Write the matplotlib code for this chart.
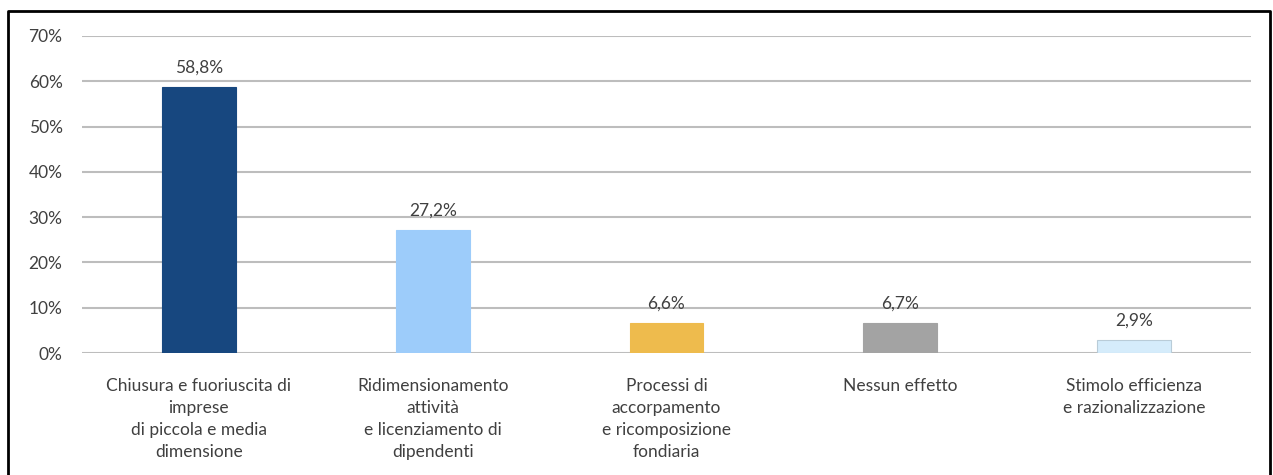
import matplotlib
matplotlib.use("Agg")
import matplotlib.pyplot as plt
from matplotlib.lines import Line2D

categories = [
    "Chiusura e fuoriuscita di\nimprese\ndi piccola e media\ndimensione",
    "Ridimensionamento\nattività\ne licenziamento di\ndipendenti",
    "Processi di\naccorpamento\ne ricomposizione\nfondiaria",
    "Nessun effetto",
    "Stimolo efficienza\ne razionalizzazione",
]
values = [58.8, 27.2, 6.6, 6.7, 2.9]
colors = ["#17477F", "#9DCCFA", "#EEBB4D", "#A3A3A3", "#D5ECFB"]
edges = ["#17477F", "#9DCCFA", "#EEBB4D", "#A3A3A3", "#B9CCD8"]
yticks = [0, 10, 20, 30, 40, 50, 60, 70]

plt.rcParams["font.family"] = ["Lato", "DejaVu Sans"]

fig = plt.figure(figsize=(12.73, 4.75), dpi=100)
ax = fig.add_axes([82 / 1273, 1 - 353 / 475, (1251 - 82) / 1273, (353 - 36) / 475])

x = range(len(values))
bars = ax.bar(x, values, width=0.316, color=colors, edgecolor=edges, linewidth=0.8, zorder=3)

for b, v in zip(bars, values):
    ax.annotate(f"{v:.1f}%".replace(".", ","), (b.get_x() + b.get_width() / 2, v),
                xytext=(0, 8), textcoords="offset points", ha="center", va="bottom",
                fontsize=12.5, color="#404040")

ax.set_xlim(-0.5, len(values) - 0.5)
ax.set_ylim(0, 70)
ax.set_yticks(yticks)
ax.set_yticklabels([f"{t}%" for t in yticks])
ax.set_xticks(list(x))
ax.set_xticklabels(categories, linespacing=1.45)
ax.tick_params(axis="y", length=0, pad=14, labelsize=12.5, labelcolor="#404040")
ax.tick_params(axis="x", length=0, pad=18, labelsize=12.5, labelcolor="#404040")
for lab in ax.get_xticklabels():
    lab.set_verticalalignment("top")

ax.grid(axis="y", color="#BDBDBD", linewidth=1.5, zorder=0)
for s in ax.spines.values():
    s.set_visible(False)

# outer frame
fx = [8 / 1273, 8 / 1273, 1270 / 1273, 1270 / 1273]
fy = [-0.05, 1 - 11 / 475, 1 - 11 / 475, -0.05]
fig.add_artist(Line2D(fx, fy, color="black", linewidth=2, transform=fig.transFigure))

fig.savefig("out.png", dpi=100)
